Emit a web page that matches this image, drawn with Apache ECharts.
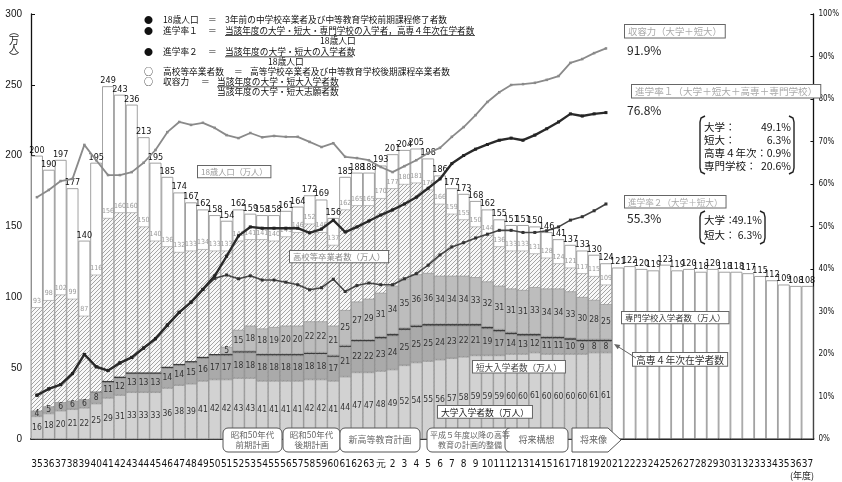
<!DOCTYPE html>
<html><head><meta charset="utf-8">
<script src="https://cdn.jsdelivr.net/npm/echarts@6/dist/echarts.min.js"></script>
<style>html,body{margin:0;padding:0;background:#fff}#c{width:842px;height:482px}</style>
</head><body><div id="c"></div>
<script>
// ---- data (万人 / %) ----
const years = ['35','36','37','38','39','40','41','42','43','44','45','46','47','48','49','50','51','52','53','54','55','56','57','58','59','60','61','62','63','元','2','3','4','5','6','7','8','9','10','11','12','13','14','15','16','17','18','19','20','21','22','23','24','25','26','27','28','29','30','31','32','33','34','35','36','37'];
const pop18 = [200,190,197,177,140,195,249,243,236,213,195,185,174,167,162,158,154,162,159,158,158,161,164,172,169,156,185,188,188,193,201,204,205,198,186,177,173,168,162,155,151,151,150,146,141,137,133,130,124,121,122,120,119,123,119,120,118,120,118,118,117,115,112,109,108,108];
const graduates = [93,98,102,99,87,116,156,160,160,150,140,136,132,133,134,133,133,140,141,141,140,143,146,152,146,137,162,165,165,170,177,180,181,176,166,159,155,150,144,136,133,133,131,128,124,121,117,115,109];
const univEntrants = [16,18,20,21,22,25,29,31,33,33,33,36,38,39,41,42,42,43,43,41,41,41,41,42,42,41,44,47,47,48,49,52,54,55,56,57,58,59,59,59,60,60,61,60,60,60,60,61,61];
const jcEntrants = [4,5,6,6,6,8,11,12,13,13,13,14,14,15,16,17,17,18,18,18,18,18,18,18,18,17,21,22,22,23,24,25,25,25,24,23,22,21,19,17,14,13,12,11,11,10,9,8,8];
const kosen4 = [null,null,null,null,null,0.4,1.0,1.0,1.0,1.0,1.0,1.0,1.0,1.0,1.0,1.0,1.0,1.0,1.0,1.0,1.0,1.0,1.0,1.0,1.0,1.0,1.0,1.0,1.0,1.2,1.2,1.2,1.2,1.2,1.2,1.2,1.2,1.2,1.2,1.2,1.2,1.2,1.2,1.2,1.2,1.2,1.2,1.2,1.2];
const senmonEntrants = [null,null,null,null,null,null,null,null,null,null,null,null,null,null,null,null,5,15,18,18,19,20,20,22,22,21,25,27,29,31,34,35,36,36,34,34,34,33,32,31,31,31,33,34,34,33,30,28,25];
const capacityRate = [56.9,58.6,60.7,61.2,69.2,65.6,62.1,62.1,62.8,65.0,68.0,72.2,74.6,73.9,74.4,73.2,71.5,70.8,72.0,71.0,71.3,71.1,71.1,69.9,68.7,69.6,66.4,66.1,65.6,64.0,62.8,64.2,65.6,67.3,68.5,71.1,73.4,76.2,79.3,81.6,83.3,83.5,83.8,84.5,85.4,88.5,89.4,90.8,91.9];
const rate1 = [10.3,11.8,12.8,15.4,19.9,17.0,16.1,17.9,19.2,21.4,23.6,26.8,29.8,32.2,35.2,38.4,43.0,47.8,49.9,49.6,49.6,49.6,49.6,48.5,49.4,51.5,48.7,49.9,51.3,52.7,53.9,55.3,56.9,59.0,61.2,64.8,66.7,68.2,69.3,70.3,70.8,70.3,71.5,73.0,74.6,76.5,76.0,76.5,76.8];
const rate2 = [10.3,11.8,12.8,15.4,19.9,17.0,16.1,17.9,19.2,21.4,23.6,26.8,29.8,32.2,35.2,37.8,38.6,37.7,38.4,37.4,37.4,36.9,36.3,35.1,35.6,37.6,34.7,36.1,36.7,36.3,36.3,37.7,38.9,40.9,43.3,45.2,46.2,47.3,48.2,49.1,49.1,48.6,48.6,49.0,49.9,51.5,52.3,53.7,55.3];

const NARROW = "'Liberation Sans Narrow','DejaVu Sans Condensed','Liberation Sans',sans-serif";
const JP = "'Noto Sans CJK JP','Noto Sans',sans-serif";

function hatch(){
  const c=document.createElement('canvas');c.width=4;c.height=4;
  const g=c.getContext('2d');g.fillStyle='#f8f8f8';g.fillRect(0,0,4,4);
  g.strokeStyle='#9a9a9a';g.lineWidth=0.9;g.beginPath();g.moveTo(-1,5);g.lineTo(5,-1);g.stroke();
  return c;
}

const chart = echarts.init(document.getElementById('c'));

function T(x,y,text,size,color,extra){
  return Object.assign({type:'text',z:120,style:Object.assign({text:text,x:x,y:y,font:size+'px '+JP,fill:color||'#111',textVerticalAlign:'middle'},extra||{})});
}
function box(x,y,text,size,color,extra){
  return {type:'text',z:120,style:Object.assign({text:text,x:x,y:y,font:size+'px '+JP,fill:color,backgroundColor:'#fff',borderColor:'#666',borderWidth:1,padding:[2,3,1,3],textVerticalAlign:'top'},extra||{})};
}
function uline(x1,x2,y){return {type:'line',z:120,shape:{x1:x1,y1:y,x2:x2,y2:y},style:{stroke:'#222',lineWidth:0.8}};}
function plan(x,w,text,size){
  return [{type:'rect',z:110,shape:{x:x,y:428,width:w,height:24,r:5},style:{fill:'#fff',stroke:'#555',lineWidth:1}},
          {type:'text',z:111,style:{text:text,x:x+w/2,y:440,font:size+'px '+JP,fill:'#666',textAlign:'center',textVerticalAlign:'middle',lineHeight:size+2}}];
}
function bracket(x1,x2,y1,y2){
  return [{type:'polyline',z:120,shape:{points:[[x1+5,y1],[x1+1,y1+2],[x1,y1+6],[x1,y2-6],[x1+1,y2-2],[x1+5,y2]]},style:{stroke:'#222',lineWidth:1.4,fill:null}},
          {type:'polyline',z:120,shape:{points:[[x2-5,y1],[x2-1,y1+2],[x2,y1+6],[x2,y2-6],[x2-1,y2-2],[x2-5,y2]]},style:{stroke:'#222',lineWidth:1.4,fill:null}}];
}

const graphics = [
  // legend block
  T(144,20,'●',9), T(163,20,'18歳人口',8.7), T(208,20,'＝',8.7), T(225,20,'3年前の中学校卒業者及び中等教育学校前期課程修了者数',8.7),
  T(144,30.5,'●',9), T(163,30.5,'進学率１',8.7), T(208,30.5,'＝',8.7), T(225,30.5,'当該年度の大学・短大・専門学校の入学者，高専４年次在学者数',8.6),
  uline(225,475,35.5),
  T(320,41,'18歳人口',8.7),
  T(144,52,'●',9), T(163,52,'進学率２',8.7), T(208,52,'＝',8.7), T(225,52,'当該年度の大学・短大の入学者数',8.7),
  uline(225,353,56.8),
  T(268,62,'18歳人口',8.7),
  T(144,72,'○',9), T(163,72,'高校等卒業者数',8.7), T(234,72,'＝',8.7), T(250,72,'高等学校卒業者及び中等教育学校後期課程卒業者数',8.7),
  T(144,82,'○',9), T(163,82,'収容力',8.7), T(201,82,'＝',8.7), T(217,82,'当該年度の大学・短大入学者数',8.7),
  uline(217,339,86.8),
  T(217,92,'当該年度の大学・短大志願者数',8.7),
  // y axis name
  {type:'text',z:120,style:{text:'︵\n万\n人\n︶',x:14,y:27,font:'10px '+JP,fill:'#222',textAlign:'center',lineHeight:8.5}},
  // year unit
  T(790,476,'(年度)',9,'#222'),
  // boxes inside plot
  box(198,166,'18歳人口（万人）',8.2,'#999'),
  box(290,251,'高校等卒業者数（万人）',8.4,'#888'),
  box(473,361,'短大入学者数（万人）',8.6,'#444'),
  box(438,406,'大学入学者数（万人）',8.8,'#222'),
  box(622,312,'専門学校入学者数（万人）',8.4,'#333'),
  box(633,353,'高専４年次在学者数',9.8,'#333'),
  // arrow to kosen band
  {type:'line',z:120,shape:{x1:636,y1:358,x2:617,y2:346},style:{stroke:'#666',lineWidth:1}},
  {type:'polygon',z:120,shape:{points:[[614,344],[620.4,345.1],[617.7,349.3]]},style:{fill:'#666'}},
  // right side boxes
  box(625,25,'収容力（大学＋短大）',9.4,'#aaa'),
  T(627,50,'91.9%',12,'#222'),
  box(632,85,'進学率１（大学＋短大＋高専＋専門学校）',9.6,'#aaa'),
  T(627,110,'76.8%',12,'#222'),
  box(625,196,'進学率２（大学＋短大）',8.6,'#aaa'),
  T(627,218,'55.3%',12,'#222'),
  // breakdown 1
  T(704,127,'大学：',10.5), T(791,127,'49.1%',10.5,'#111',{textAlign:'right'}),
  T(704,140,'短大：',10.5), T(791,140,'6.3%',10.5,'#111',{textAlign:'right'}),
  T(704,153,'高専４年次：',10.5), T(791,153,'0.9%',10.5,'#111',{textAlign:'right'}),
  T(704,166,'専門学校：',10.5), T(791,166,'20.6%',10.5,'#111',{textAlign:'right'}),
  // breakdown 2
  T(704,220,'大学：',10.5), T(762,220,'49.1%',10.5,'#111',{textAlign:'right'}),
  T(704,235,'短大：',10.5), T(762,235,'6.3%',10.5,'#111',{textAlign:'right'}),
  {type:'polygon',z:110,shape:{points:[[572,428],[608,428],[621,440],[608,452],[572,452]]},style:{fill:'#fff',stroke:'#555',lineWidth:1}},
  {type:'text',z:111,style:{text:'将来像',x:580,y:440,font:'9px '+JP,fill:'#666',textVerticalAlign:'middle'}}
].concat(bracket(700,794,116,174), bracket(700,765,211,244),
  plan(223,59,'昭和50年代\n前期計画',8.5), plan(283,57,'昭和50年代\n後期計画',8.5),
  plan(340,80,'新高等教育計画',9), plan(427,86,'平成５年度以降の高等\n教育の計画的整備',8), plan(505,63,'将来構想',9));

const barBase = {type:'bar', barGap:'-100%', barCategoryGap:'0%', animation:false};
const inLabel = {show:true, position:'inside', fontSize:8.5, fontFamily:NARROW, color:'#333'};

chart.setOption({
  animation:false,
  grid:{left:31, right:25, top:14, bottom:43},
  xAxis:{type:'category', data:years, boundaryGap:true,
    axisLine:{lineStyle:{color:'#222', width:2}}, axisTick:{show:false},
    axisLabel:{interval:0, margin:20, fontSize:10, fontFamily:NARROW, color:'#111'}},
  yAxis:[
    {type:'value', min:0, max:300, interval:50,
      axisLine:{show:true, lineStyle:{color:'#111', width:1.3}},
      axisTick:{show:true, inside:true, length:4, lineStyle:{color:'#111'}},
      axisLabel:{margin:9, fontSize:10, fontFamily:"'Liberation Sans',sans-serif", color:'#111'},
      splitLine:{show:false}},
    {type:'value', min:0, max:100, interval:10, position:'right',
      axisLine:{show:true, lineStyle:{color:'#111', width:1.3}},
      axisTick:{show:true, inside:true, length:3, lineStyle:{color:'#111'}},
      axisLabel:{margin:5, fontSize:8, fontFamily:NARROW, color:'#111', formatter:'{value}%'},
      splitLine:{show:false}}
  ],
  series:[
    Object.assign({}, barBase, {name:'18歳人口', data:pop18,
      itemStyle:{color:'#fff', borderColor:'#8a8a8a', borderWidth:0.8},
      label:{show:true, position:'top', distance:1, fontSize:9, fontFamily:NARROW, color:'#111'}}),
    Object.assign({}, barBase, {name:'高校等卒業者数', data:graduates,
      itemStyle:{color:{image:hatch(), repeat:'repeat'}, borderColor:'#9a9a9a', borderWidth:0.6},
      label:{show:true, position:'top', distance:3, fontSize:7, fontFamily:NARROW, color:'#999'}}),
    Object.assign({}, barBase, {name:'大学入学者数', stack:'ent', data:univEntrants,
      itemStyle:{color:'#d2d2d2', borderColor:'#8c8c8c', borderWidth:0.6}, label:inLabel}),
    Object.assign({}, barBase, {name:'短大入学者数', stack:'ent', data:jcEntrants,
      itemStyle:{color:'#aaaaaa', borderColor:'#8c8c8c', borderWidth:0.6}, label:inLabel}),
    Object.assign({}, barBase, {name:'高専4年次在学者数', stack:'ent', data:kosen4,
      itemStyle:{color:'#3c3c3c', borderWidth:0}}),
    Object.assign({}, barBase, {name:'専門学校入学者数', stack:'ent', data:senmonEntrants,
      itemStyle:{color:'#bdbdbd', borderColor:'#8c8c8c', borderWidth:0.6}, label:inLabel}),
    {type:'line', name:'収容力', yAxisIndex:1, data:capacityRate, symbol:'rect', symbolSize:2.5,
      lineStyle:{color:'#8a8a8a', width:1.8}, itemStyle:{color:'#8a8a8a'}, z:5},
    {type:'line', name:'進学率2', yAxisIndex:1, data:rate2, symbol:'rect', symbolSize:3,
      lineStyle:{color:'#444', width:1.6}, itemStyle:{color:'#333'}, z:5},
    {type:'line', name:'進学率1', yAxisIndex:1, data:rate1, symbol:'rect', symbolSize:3,
      lineStyle:{color:'#2a2a2a', width:2.4}, itemStyle:{color:'#222'}, z:6}
  ],
  graphic:{elements:graphics}
});
</script></body></html>
